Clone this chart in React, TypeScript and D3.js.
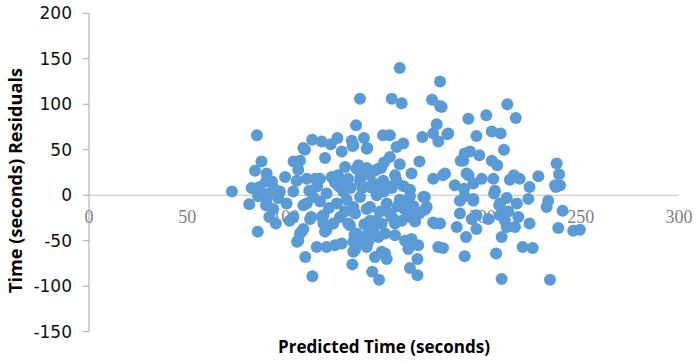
import React from "react";
import * as d3 from "d3";

const predicted: number[] = [
  72.7, 85.4, 87.7, 84.4, 82.7, 85, 86.6, 90, 93, 94.2, 91.2, 86, 96.2, 81.5, 90, 91.7, 95, 85.8, 105.8, 99.7,
  90.3, 97, 90.3, 93.7, 100.5, 103.9, 103.9, 104, 107.3, 109.8, 109, 106.4, 105.6, 110.7, 107.3, 108, 106.4, 110, 113.6, 102,
  113.5, 118.3, 122.9, 126.3, 128.5, 120, 115, 117.5, 124.2, 123.4, 126.6, 130.2, 131.8, 114, 120.8, 129.3, 109, 110.7, 117.5, 126,
  119.2, 118.3, 112.4, 113, 127.6, 132.7, 119.2, 124.2, 131.8, 120, 120.8, 109, 115.8, 120.8, 125, 128.5, 134.4, 133.9, 135.3, 134.4,
  136.1, 135, 134.4, 135.3, 133.6, 134.4, 134,
  135.8, 137.8, 139.8, 141.5, 141.2, 136, 137, 141.2, 137.8, 142.9, 147, 148.5, 145.4, 149.6, 137.8, 146.3, 142.9, 141.2, 151.4, 142.9,
  144.6, 147.1, 141.2, 142, 138.6, 145.4, 144, 147.5, 148.8, 150.5, 151.4, 150.5, 148.8, 149.5, 153, 153.9, 158, 159, 153, 156.4,
  159.8, 155.6, 156.4, 158, 154.7, 155.6, 155.6, 159, 141.2, 143.7,
  160.7, 160.7, 163.2, 163.2, 163.2, 164, 164, 162.4, 163.2, 167, 167, 167.4, 168, 170, 170.8, 170.8, 171.7, 175, 175, 175.9,
  174.4, 178.5, 178.5, 176.8, 169.5, 175, 177.6, 177.6, 178.5, 165.8, 179.3, 181, 180, 182.2, 182.7, 180, 186, 187,
  188.6, 188.6, 189, 190.3, 190.7, 191, 191, 191, 191.7, 192, 192.9, 193, 193.7, 195.4, 195.4, 195.4, 194.6, 197, 197, 197,
  198.5, 199.7, 202, 203, 204.8, 204.8, 205.6, 206.4, 206, 207, 207.6, 208.6, 209, 209, 209.3, 209.8, 209.8, 211, 211.5, 212.4,
  212.4, 212.7, 213.2, 214, 216, 216.6, 217, 217.5, 218.3, 219, 220.5, 223.4, 224, 224, 225.6, 228.5, 232.7, 233.5, 234.4, 237,
  237.4, 237.8, 238.6, 239, 239.5, 240.8, 246.2, 249.6,
  144, 148, 152, 157, 153, 146, 139, 131, 127, 122, 116, 112,
  125, 129, 133, 138, 143, 150, 154, 160, 161, 165, 168, 146, 140, 130, 158, 150,
];

const residuals: number[] = [
  4, 66, 37, 27, 8, 6, 9, 15, 15, 7, 2, -1, -3, -10, -11, -24, -31, -40, -51, 20,
  24, 4, -5, -15, -9, 4, -24, 37, 38, 50, 52, 28, 16, 18, -42, -40, -50, -68, -89, -28,
  61, 59, 56, 63, 48, 41, 18, 18, 18, 20, 22, 31, 18, -2, 2, 4, -11, -9, -7, -9,
  -22, -24, -26, -24, -24, -33, -31, -31, -31, -40, -38, -37, -57, -57, -55, -53, -51, -76, -60, -62,
  -42, -44, -13, -20, 60, 55, 54,
  77, 106, 63, 52, 51, 29, 33, 30, 15, 22, 29, 30, 27, 16, -2, 0, -13, -15, -9, -28,
  -38, -46, -57, -51, -53, -68, -84, -93, -62, -64, -70, -42, -31, 66, 66, 106, 140, 101, 42, 53,
  57, 22, 16, -5, -26, -31, -44, -28, -44, -40,
  -16, -50, -24, 6, -1, 24, -48, -59, -80, -70, -88, -55, 37, -2, -2, -16, -13, 18, -30, -31,
  105, 98, 125, 78, 64, 68, 59, -57, -31, -29, 97, 24, 22, 67, 68, -58, 11, -35,
  -6, -20, 38, 38, 7, 46, -1, -67, -46, 24, 84, 22, 48, 13, -4, -6, -26, 65, -37, -22,
  44, 18, 88, -26, 70, 38, 18, 5, 2, -64, 33, -11, -9, -22, 68, -46, -92, 50, -28, -3,
  -35, 100, -18, 17, 22, -35, 85, -9, -24, 18, -57, -4, 9, -31, -58, 21, -13, -6, -93, 11,
  9, 35, -36, 23, 11, -17, -39, -38,
  8, -18, 10, -12, -20, 12, 8, -5, 10, -14, 10, 5,
  14, 12, 8, 20, 10, 4, 8, 10, -8, -12, -20, -28, -32, -18, 34, 36,
];

const xTicks: number[] = [0, 50, 100, 150, 200, 250, 300];
const yTicks: number[] = [-150, -100, -50, 0, 50, 100, 150, 200];
const xTitle = "Predicted Time (seconds)";
const yTitle = "Time (seconds) Residuals";

export default function App() {
  const W = 696;
  const H = 362;
  const x = d3.scaleLinear().domain([0, 300]).range([89, 679]);
  const y = d3.scaleLinear().domain([-150, 200]).range([331.7, 13.3]);
  const points = predicted.map((p, i) => ({ p, r: residuals[i] })).filter((d) => d.r !== undefined);

  return (
    <svg
      width={W}
      height={H}
      style={{ position: "absolute", left: 0, top: 0, background: "#fff" }}
    >
      <line x1={x(0)} x2={x(0)} y1={y(200)} y2={y(-150)} stroke="#a6a6a6" strokeWidth={1} />
      {yTicks.map((t) => (
        <g key={"yt" + t}>
          <line x1={x(0) - 6} x2={x(0)} y1={y(t)} y2={y(t)} stroke="#a6a6a6" strokeWidth={1} />
          <text
            x={72}
            y={y(t) + 6}
            textAnchor="end"
            fontFamily="'DejaVu Sans', sans-serif"
            fontSize={17}
            fill="#111"
          >
            {t}
          </text>
        </g>
      ))}
      <line x1={x(0)} x2={x(300)} y1={y(0)} y2={y(0)} stroke="#bfbfbf" strokeWidth={1} />
      {xTicks.map((t) => (
        <text
          key={"xt" + t}
          x={x(t)}
          y={y(0) + 28}
          textAnchor="middle"
          fontFamily="'Liberation Serif', serif"
          fontSize={18}
          fill="#7f7f7f"
        >
          {t}
        </text>
      ))}
      {points.map((d, i) => (
        <circle key={i} cx={x(d.p)} cy={y(d.r)} r={6} fill="#5b9bd5" />
      ))}
      <text
        x={384}
        y={353}
        textAnchor="middle"
        fontFamily="'Open Sans', sans-serif"
        fontWeight="bold"
        fontSize={17}
        fill="#000"
        textLength={212}
        lengthAdjust="spacingAndGlyphs"
      >
        {xTitle}
      </text>
      <text
        transform={`translate(22,180.5) rotate(-90)`}
        textAnchor="middle"
        fontFamily="'Open Sans', sans-serif"
        fontWeight="bold"
        fontSize={17.5}
        fill="#000"
        textLength={225}
        lengthAdjust="spacingAndGlyphs"
      >
        {yTitle}
      </text>
    </svg>
  );
}
